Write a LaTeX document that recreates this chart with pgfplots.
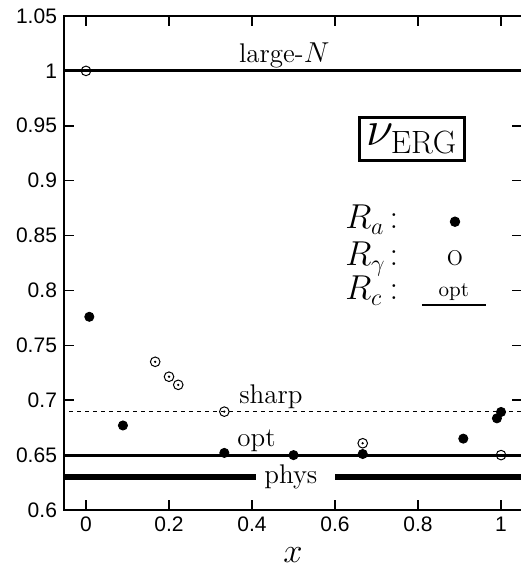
\documentclass[border=0pt]{standalone}
\usepackage{fontspec}
\newfontfamily\helv{Liberation Sans}
\usepackage{pgfplots}
\pgfplotsset{compat=1.18}

% R_a : filled points
\pgfplotstableread{
x y
0.008 0.776
0.089 0.677
0.3333 0.652
0.5 0.650
0.6667 0.651
0.909 0.665
0.990 0.6835
1.0 0.6893
}\ra
% R_gamma : open points
\pgfplotstableread{
x y
0 1.0
0.1667 0.735
0.2 0.7214
0.2222 0.714
0.3333 0.6896
0.6667 0.6608
1.0 0.650
}\rg

\begin{document}
\begin{tikzpicture}
\begin{axis}[
  scale only axis,
  width=228.9pt, height=247pt,
  xmin=-0.053, xmax=1.05,
  ymin=0.6, ymax=1.05,
  xtick={0,0.2,0.4,0.6,0.8,1},
  ytick={0.6,0.65,0.7,0.75,0.8,0.85,0.9,0.95,1,1.05},
  tick align=inside,
  major tick length=5pt,
  axis line style={line width=1pt},
  every tick/.style={black, line width=0.8pt},
  ticklabel style={font=\helv\fontsize{10.5}{12}\selectfont},
  /pgf/number format/assume math mode=true,
  xlabel={$x$},
  xlabel style={font=\fontsize{17}{20}\selectfont, yshift=-1pt},
]
% reference lines
\addplot[black, line width=1.6pt] coordinates {(-0.06,1) (1.06,1)};
\addplot[black, line width=0.6pt, dash pattern=on 2pt off 2pt] coordinates {(-0.06,0.69) (1.06,0.69)};
\addplot[black, line width=1.4pt] coordinates {(-0.06,0.65) (1.06,0.65)};
\addplot[black, line width=3.4pt] coordinates {(-0.06,0.63) (0.409,0.63)};
\addplot[black, line width=3.4pt] coordinates {(0.6,0.63) (1.06,0.63)};

% data
\addplot[only marks, mark=*, mark size=2.3pt, black] table {\ra};
\addplot[only marks, mark=o, mark size=2.4pt, mark options={line width=0.5pt, fill=white}, black] table {\rg};
\addplot[only marks, mark=*, mark size=0.35pt, black] table {\rg};

% legend symbols
\addplot[only marks, mark=*, mark size=2.4pt, black] coordinates {(0.889,0.8626)};
\addplot[black, line width=1.4pt] coordinates {(0.809,0.7868) (0.963,0.7868)};

% labels
\node[anchor=base, font=\fontsize{13.5}{15}\selectfont] at (axis cs:0.4776,1.008) {large-$N$};
\node[anchor=base, font=\fontsize{13.5}{15}\selectfont] at (axis cs:0.4455,0.6966) {sharp};
\node[anchor=base, font=\fontsize{13.5}{15}\selectfont] at (axis cs:0.411,0.6574) {opt};
\node[anchor=base, font=\fontsize{13.5}{15}\selectfont] at (axis cs:0.4936,0.6243) {phys};
\node[draw, line width=1.3pt, inner sep=3.5pt, font=\fontsize{23}{27}\selectfont] at (axis cs:0.7855,0.938) {$\nu_{\mathrm{ERG}}$};
\node[anchor=base west, inner sep=0pt, font=\fontsize{17}{20}\selectfont] at (axis cs:0.624,0.856) {$R_a$};
\node[anchor=base west, inner sep=0pt, font=\fontsize{17}{20}\selectfont] at (axis cs:0.624,0.8223) {$R_\gamma$};
\node[anchor=base west, inner sep=0pt, font=\fontsize{17}{20}\selectfont] at (axis cs:0.624,0.7913) {$R_c$};
\node[anchor=base, inner sep=0pt, font=\fontsize{17}{20}\selectfont] at (axis cs:0.742,0.856) {$:$};
\node[anchor=base, inner sep=0pt, font=\fontsize{17}{20}\selectfont] at (axis cs:0.742,0.8223) {$:$};
\node[anchor=base, inner sep=0pt, font=\fontsize{17}{20}\selectfont] at (axis cs:0.742,0.7913) {$:$};
\node[anchor=base, inner sep=0pt, font=\fontsize{17}{20}\selectfont] at (axis cs:0.889,0.8223) {o};
\node[anchor=base, inner sep=0pt, font=\fontsize{10.5}{12}\selectfont] at (axis cs:0.886,0.7943) {opt};

\coordinate (sw) at (rel axis cs:0,0);
\coordinate (ne) at (rel axis cs:1,1);
\end{axis}
\pgfresetboundingbox
\useasboundingbox ([xshift=-32pt,yshift=-28.5pt]sw) rectangle ([xshift=-0.9pt,yshift=8pt]ne);
\end{tikzpicture}
\end{document}
